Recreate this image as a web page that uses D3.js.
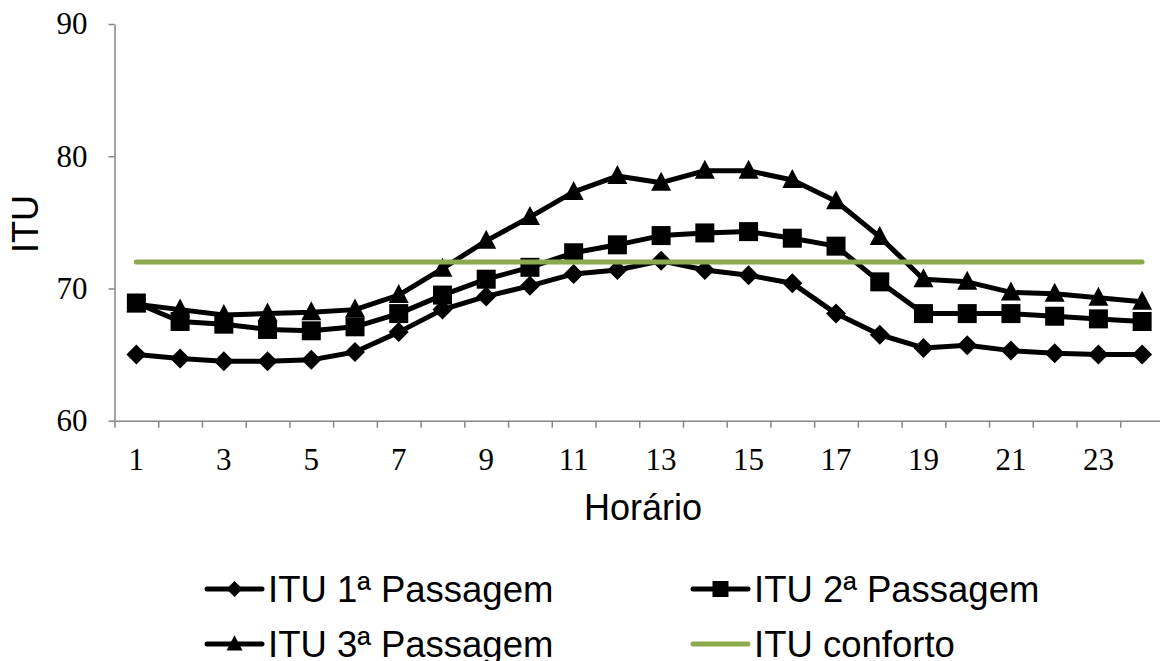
<!DOCTYPE html>
<html>
<head>
<meta charset="utf-8">
<script src="https://cdn.jsdelivr.net/npm/d3@7"></script>
<style>
  html, body { margin: 0; padding: 0; background: #fff; overflow: hidden; }
  .chart svg { display: block; }
</style>
</head>
<body>
<div class="chart"></div>
<script>
// hours on the x axis
const hours = d3.range(1, 25);
const xTickLabels = [1, 3, 5, 7, 9, 11, 13, 15, 17, 19, 21, 23];
const yTicks = [60, 70, 80, 90];

// ITU per pass
const itu1 = [65.0, 64.7, 64.5, 64.5, 64.6, 65.2, 66.7, 68.4, 69.4, 70.2, 71.1, 71.4,
              72.1, 71.4, 71.0, 70.4, 68.1, 66.5, 65.5, 65.7, 65.3, 65.1, 65.0, 65.0];
const itu2 = [68.9, 67.5, 67.3, 66.9, 66.8, 67.1, 68.1, 69.5, 70.7, 71.6, 72.7, 73.3,
              74.0, 74.2, 74.3, 73.8, 73.2, 70.5, 68.1, 68.1, 68.1, 67.9, 67.7, 67.5];
const itu3 = [68.8, 68.4, 68.0, 68.1, 68.2, 68.4, 69.5, 71.5, 73.6, 75.4, 77.3, 78.5,
              78.0, 78.9, 78.9, 78.2, 76.6, 73.9, 70.7, 70.5, 69.7, 69.6, 69.3, 69.0];
const ituConforto = 72;

const seriesNames = ["ITU 1ª Passagem", "ITU 2ª Passagem", "ITU 3ª Passagem", "ITU conforto"];

const width = 1160, height = 661;
const plot = {left: 114.5, right: 1164, top: 24, bottom: 420.7};
const axisCol = "#868686";
const lineCol = "#000";
const greenCol = "#8BAA4C";

// marker shapes, drawn around 0,0
function marker(kind, s){
    if (kind === "diamond") return `M0,${-s}L${s},0L0,${s}L${-s},0Z`;
    if (kind === "square") return `M${-s},${-s}H${s}V${s}H${-s}Z`;
    return `M0,${-s*1.1}L${s},${s*0.8}L${-s},${s*0.8}Z`;
}

const svg = d3.select(".chart").append("svg")
    .attr("width", width)
    .attr("height", height);

const xscale = d3.scaleBand()
    .domain(hours)
    .range([plot.left, plot.right])
    .padding(0);
const xedge = d3.scaleLinear()
    .domain([0, hours.length])
    .range([plot.left, plot.right]);
const yscale = d3.scaleLinear()
    .domain([60, 90])
    .range([plot.bottom, plot.top]);
const cx = (h) => xscale(h) + xscale.bandwidth() / 2;

// y axis
const yaxis = svg.append("g")
    .attr("transform", `translate(${plot.left},0)`)
    .call(d3.axisLeft(yscale).tickValues(yTicks).tickSize(6).tickPadding(21).tickSizeOuter(0));
yaxis.select(".domain").attr("stroke", axisCol).attr("stroke-width", 1.5);
yaxis.selectAll(".tick line").attr("stroke", axisCol).attr("stroke-width", 1.5);
yaxis.selectAll(".tick text")
    .attr("font-family", "Liberation Serif, Times New Roman, serif")
    .attr("font-size", 31)
    .attr("fill", "#000");

// x axis: ticks on category edges, labels on odd hours
const xaxisTicks = svg.append("g")
    .attr("transform", `translate(0,${plot.bottom})`)
    .call(d3.axisBottom(xedge).tickValues(d3.range(0, hours.length + 1)).tickSize(7).tickFormat("").tickSizeOuter(0));
xaxisTicks.select(".domain").attr("stroke", axisCol).attr("stroke-width", 1.5);
xaxisTicks.selectAll(".tick line").attr("stroke", axisCol).attr("stroke-width", 1.5);

const xaxisLabels = svg.append("g")
    .attr("transform", `translate(0,${plot.bottom})`)
    .call(d3.axisBottom(xscale).tickValues(xTickLabels).tickSize(0).tickPadding(27));
xaxisLabels.select(".domain").remove();
xaxisLabels.selectAll(".tick text")
    .attr("font-family", "Liberation Serif, Times New Roman, serif")
    .attr("font-size", 31)
    .attr("fill", "#000");

// axis titles
svg.append("text")
    .attr("x", 643)
    .attr("y", 520)
    .attr("text-anchor", "middle")
    .attr("font-family", "Liberation Sans, Arial, sans-serif")
    .attr("font-size", 36)
    .text("Horário");

svg.append("text")
    .attr("transform", "translate(38,224) rotate(-90)")
    .attr("text-anchor", "middle")
    .attr("font-family", "Liberation Sans, Arial, sans-serif")
    .attr("font-size", 36)
    .text("ITU");

// series
const series = [
    {name: seriesNames[0], values: itu1, shape: "diamond", size: 10},
    {name: seriesNames[1], values: itu2, shape: "square", size: 9.5},
    {name: seriesNames[2], values: itu3, shape: "triangle", size: 10}
];

const line = d3.line()
    .x((d, i) => cx(hours[i]))
    .y((d) => yscale(d));

series.forEach((s) => {
    const g = svg.append("g");
    g.append("path")
        .datum(s.values)
        .attr("d", line)
        .attr("fill", "none")
        .attr("stroke", lineCol)
        .attr("stroke-width", 5)
        .attr("stroke-linejoin", "round");
    g.selectAll("path.mk")
        .data(s.values)
        .enter()
            .append("path")
                .attr("class", "mk")
                .attr("d", marker(s.shape, s.size))
                .attr("transform", (d, i) => `translate(${cx(hours[i])},${yscale(d)})`)
                .attr("fill", lineCol);
});

// comfort line
svg.append("path")
    .datum(hours.map(() => ituConforto))
    .attr("d", line)
    .attr("fill", "none")
    .attr("stroke", greenCol)
    .attr("stroke-width", 5)
    .attr("stroke-linecap", "round");

// legend
const legendItems = [
    {name: seriesNames[0], shape: "diamond", col: lineCol, x: 207, y: 589},
    {name: seriesNames[1], shape: "square", col: lineCol, x: 693, y: 589},
    {name: seriesNames[2], shape: "triangle", col: lineCol, x: 207, y: 644},
    {name: seriesNames[3], shape: null, col: greenCol, x: 693, y: 644}
];

const legend = svg.append("g");
legendItems.forEach((d) => {
    const g = legend.append("g").attr("transform", `translate(${d.x},${d.y})`);
    g.append("line")
        .attr("x1", 0).attr("x2", 55)
        .attr("stroke", d.col)
        .attr("stroke-width", 5)
        .attr("stroke-linecap", "round");
    if (d.shape) {
        g.append("path")
            .attr("d", marker(d.shape, 8))
            .attr("transform", "translate(27.5,0)")
            .attr("fill", d.col);
    }
    g.append("text")
        .attr("x", 61)
        .attr("y", 13)
        .attr("font-family", "Liberation Sans, Arial, sans-serif")
        .attr("font-size", 36.5)
        .text(d.name);
});
</script>
</body>
</html>
